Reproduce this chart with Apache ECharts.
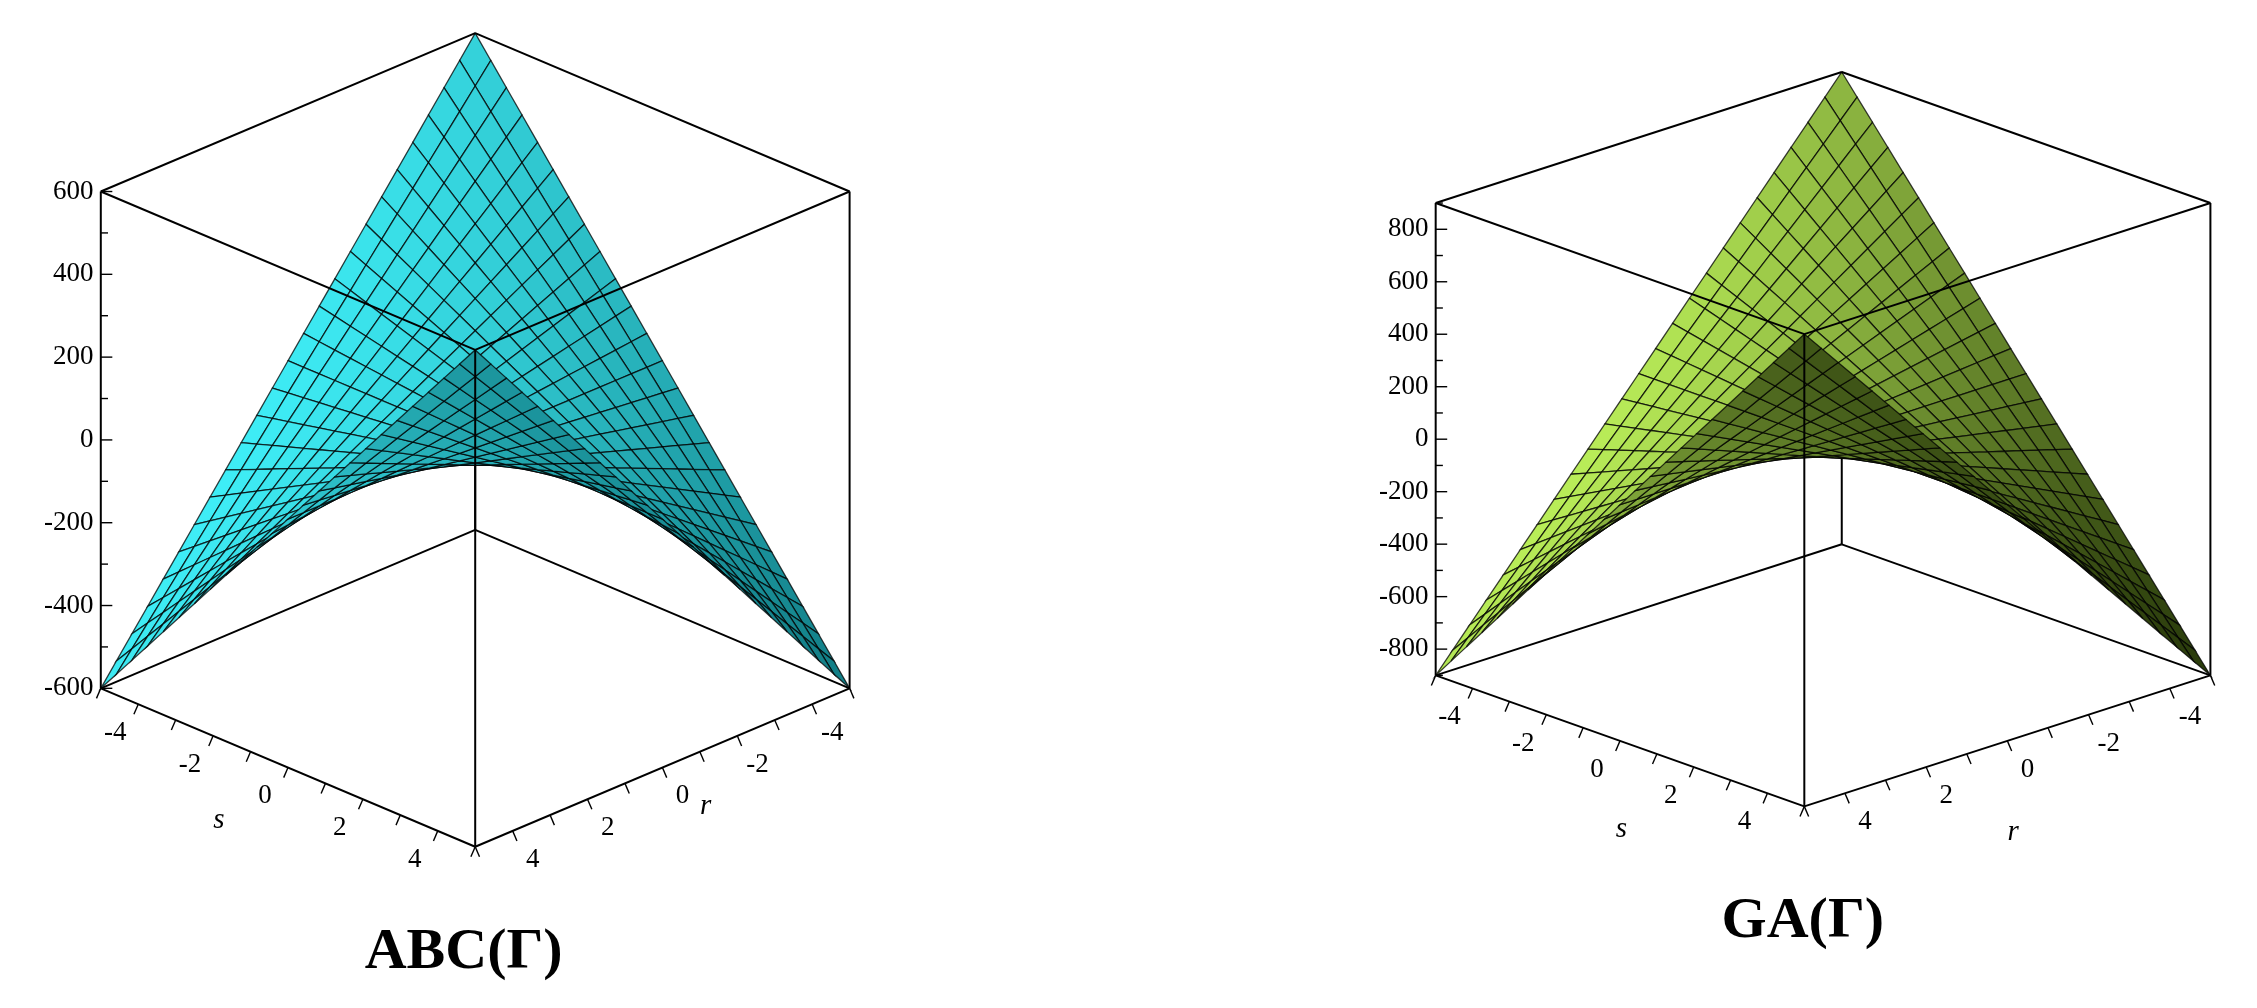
<!DOCTYPE html>
<html>
<head>
<meta charset="utf-8">
<script src="https://cdn.jsdelivr.net/npm/echarts@6/dist/echarts.min.js"></script>
<style>html,body{margin:0;padding:0;background:#fff}#chart{width:2257px;height:1008px}</style>
</head>
<body>
<div id="chart"></div>
<script>
// data: corner heights of each surface at (s,r) = (-5,-5), (5,-5), (-5,5), (5,5)
const cornerABC = [600, -600, -600, 600]
const cornerGA = [900, -900, -900, 900]
const sTicks = [-4, -2, 0, 2, 4]
const rTicks = [-4, -2, 0, 2, 4]
const zTicksABC = [-600, -400, -200, 0, 200, 400, 600]
const zTicksGA = [-800, -600, -400, -200, 0, 200, 400, 600, 800]
const titles = ['ABC(Γ)', 'GA(Γ)']

const N = 24
const F = 1.44
const views = [
  { corners: cornerABC, zTicks: zTicksABC, zmax: 600, cx: 330, xs: 26, xr: -26, ys: 11, yr: 11, base: 478, zh: 345,
    light: [66, 246, 255], dark: [8, 100, 108], gamma: 1.1, title: titles[0], tx: 322, ty: 662, sl: [152, 570], rl: [490, 560] },
  { corners: cornerGA, zTicks: zTicksGA, zmax: 900, cx: 1266, xs: 25.6, xr: -28.2, ys: 9.1, yr: 9.1, base: 469, zh: 328,
    light: [200, 255, 96], dark: [28, 42, 4], gamma: 1.6, title: titles[1], tx: 1252, ty: 640, sl: [1126, 576], rl: [1398, 578] }
]

function zAt(v, s, r) {
  const u = (s + 5) / 10, w = (r + 5) / 10
  const c = v.corners
  return c[0] * (1 - u) * (1 - w) + c[1] * u * (1 - w) + c[2] * (1 - u) * w + c[3] * u * w
}
function proj(v, s, r, z) {
  return [v.cx + s * v.xs + r * v.xr, v.base + s * v.ys + r * v.yr - (z + v.zmax) * v.zh / (2 * v.zmax)]
}

// surface cells, sorted back to front
const cells = []
views.forEach((v, vi) => {
  for (let i = 0; i < N; i++) for (let j = 0; j < N; j++) cells.push([vi, i, j, i + j])
})
cells.sort((a, b) => a[3] - b[3])

function shade(v, s, r) {
  const k = (v.corners[3] - v.corners[1]) / 100 / v.zmax * 5
  let n = [-k * r, -k * s, 1]
  const l = Math.hypot(n[0], n[1], n[2]); n = n.map(x => x / l)
  let L = [-0.2, 0.7, 0.7]; const ll = Math.hypot(...L); L = L.map(x => x / ll)
  let d = Math.max(0, n[0] * L[0] + n[1] * L[1] + n[2] * L[2])
  d = Math.pow(d, v.gamma)
  const c = v.light.map((x, i) => Math.round(v.dark[i] + (x - v.dark[i]) * d))
  return 'rgb(' + c.join(',') + ')'
}

function line(api, a, b, w) {
  const p = api.coord(a), q = api.coord(b)
  return { type: 'line', shape: { x1: p[0], y1: p[1], x2: q[0], y2: q[1] }, style: { stroke: '#000', lineWidth: w || 2 } }
}
function text(api, p, t, font, align) {
  const c = api.coord(p)
  return { type: 'text', x: c[0], y: c[1], style: { text: t, font: font, fill: '#000', align: align || 'center', verticalAlign: 'middle' } }
}

function boxBack(vi, api) {
  const v = views[vi], zm = v.zmax
  const P = (s, r, z) => proj(v, s, r, z)
  return { type: 'group', children: [
    line(api, P(-5, -5, -zm), P(-5, -5, zm)),
    line(api, P(-5, -5, -zm), P(-5, 5, -zm)),
    line(api, P(-5, -5, -zm), P(5, -5, -zm))
  ] }
}
function boxFront(vi, api) {
  const v = views[vi], zm = v.zmax
  const P = (s, r, z) => proj(v, s, r, z)
  const ch = [
    line(api, P(-5, -5, zm), P(-5, 5, zm)), line(api, P(-5, -5, zm), P(5, -5, zm)),
    line(api, P(5, 5, zm), P(-5, 5, zm)), line(api, P(5, 5, zm), P(5, -5, zm)),
    line(api, P(-5, 5, -zm), P(-5, 5, zm)), line(api, P(5, -5, -zm), P(5, -5, zm)),
    line(api, P(5, 5, -zm), P(5, 5, zm)),
    line(api, P(5, 5, -zm), P(-5, 5, -zm)), line(api, P(5, 5, -zm), P(5, -5, -zm))
  ]
  const font = Math.round(19 * F) + 'px "Liberation Serif", serif'
  const zstep = (v.zTicks[1] - v.zTicks[0]) / 2
  for (let z = v.zTicks[0] - zstep; z <= zm; z += zstep) {
    if (z < -zm) continue
    const p = P(-5, 5, z)
    const major = v.zTicks.indexOf(z) >= 0
    ch.push(line(api, p, [p[0] + (major ? 8 : 5), p[1]], 1.4))
  }
  v.zTicks.forEach(z => { const p = P(-5, 5, z); ch.push(text(api, [p[0] - 5, p[1]], String(z), font, 'right')) })
  for (let s = -5; s <= 5; s++) {
    const p = P(s, 5, -zm)
    ch.push(line(api, p, [p[0] - 3, p[1] + 7], 1.4))
  }
  sTicks.forEach(s => { const p = P(s, 5, -zm); ch.push(text(api, [p[0] - 16, p[1] + 20], String(s), font)) })
  for (let r = -5; r <= 5; r++) {
    const p = P(5, r, -zm)
    ch.push(line(api, p, [p[0] + 3, p[1] + 7], 1.4))
  }
  rTicks.forEach(r => { const p = P(5, r, -zm); ch.push(text(api, [p[0] + 14, p[1] + 20], String(r), font)) })
  const itf = 'italic ' + Math.round(20 * F) + 'px "Liberation Serif", serif'
  ch.push(text(api, v.sl, 's', itf))
  ch.push(text(api, v.rl, 'r', itf))
  ch.push(text(api, [v.tx, v.ty], v.title, 'bold ' + Math.round(40 * F) + 'px "Liberation Serif", serif'))
  return { type: 'group', children: ch }
}

const chart = echarts.init(document.getElementById('chart'))
chart.setOption({
  animation: false,
  grid: { left: 0, right: 0, top: 0, bottom: 0 },
  xAxis: { type: 'value', min: 0, max: 2257 / F, show: false },
  yAxis: { type: 'value', min: 0, max: 1008 / F, inverse: true, show: false },
  series: [
    { type: 'custom', data: [[0], [1]], renderItem: (p, api) => boxBack(api.value(0), api), z: 1 },
    {
      type: 'custom', data: cells, z: 2,
      renderItem: (p, api) => {
        const vi = api.value(0), i = api.value(1), j = api.value(2)
        const v = views[vi], d = 10 / N
        const s0 = -5 + i * d, r0 = -5 + j * d
        const pts = [[s0, r0], [s0 + d, r0], [s0 + d, r0 + d], [s0, r0 + d]].map(([s, r]) => api.coord(proj(v, s, r, zAt(v, s, r))))
        return { type: 'polygon', shape: { points: pts },
          style: { fill: shade(v, s0 + d / 2, r0 + d / 2), stroke: 'rgba(0,0,0,0.75)', lineWidth: 1.3 } }
      }
    },
    { type: 'custom', data: [[0], [1]], renderItem: (p, api) => boxFront(api.value(0), api), z: 3 }
  ]
})
</script>
</body>
</html>
